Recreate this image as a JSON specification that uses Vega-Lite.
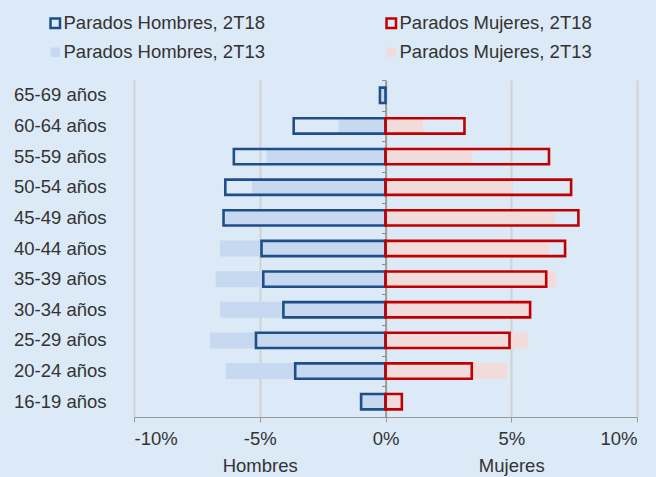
{
  "$schema": "https://vega.github.io/schema/vega-lite/v6.json",
  "width": 503,
  "height": 337,
  "autosize": "none",
  "padding": {"left": 134, "top": 80, "right": 19, "bottom": 60},
  "background": "#dce9f6",
  "config": {
    "view": {"stroke": null},
    "font": "Liberation Sans",
    "legend": {
      "orient": "none",
      "legendX": -88,
      "legendY": -66,
      "columns": 2,
      "columnPadding": 115,
      "rowPadding": 9,
      "padding": 0,
      "labelFontSize": 18.5,
      "labelColor": "#333333",
      "labelOffset": -1,
      "labelLimit": 300,
      "symbolType": "square",
      "symbolSize": 90,
      "symbolStrokeWidth": 2.5,
      "title": null
    }
  },
  "data": {
    "values": [
      {"edad": "65-69 años", "serie": "Parados Hombres, 2T18", "periodo": "2T18", "valor": -0.22},
      {"edad": "60-64 años", "serie": "Parados Hombres, 2T18", "periodo": "2T18", "valor": -3.65},
      {"edad": "55-59 años", "serie": "Parados Hombres, 2T18", "periodo": "2T18", "valor": -6.03},
      {"edad": "50-54 años", "serie": "Parados Hombres, 2T18", "periodo": "2T18", "valor": -6.37},
      {"edad": "45-49 años", "serie": "Parados Hombres, 2T18", "periodo": "2T18", "valor": -6.44},
      {"edad": "40-44 años", "serie": "Parados Hombres, 2T18", "periodo": "2T18", "valor": -4.93},
      {"edad": "35-39 años", "serie": "Parados Hombres, 2T18", "periodo": "2T18", "valor": -4.86},
      {"edad": "30-34 años", "serie": "Parados Hombres, 2T18", "periodo": "2T18", "valor": -4.06},
      {"edad": "25-29 años", "serie": "Parados Hombres, 2T18", "periodo": "2T18", "valor": -5.15},
      {"edad": "20-24 años", "serie": "Parados Hombres, 2T18", "periodo": "2T18", "valor": -3.59},
      {"edad": "16-19 años", "serie": "Parados Hombres, 2T18", "periodo": "2T18", "valor": -0.97},
      {"edad": "65-69 años", "serie": "Parados Hombres, 2T13", "periodo": "2T13", "valor": -0.15},
      {"edad": "60-64 años", "serie": "Parados Hombres, 2T13", "periodo": "2T13", "valor": -1.87},
      {"edad": "55-59 años", "serie": "Parados Hombres, 2T13", "periodo": "2T13", "valor": -4.73},
      {"edad": "50-54 años", "serie": "Parados Hombres, 2T13", "periodo": "2T13", "valor": -5.31},
      {"edad": "45-49 años", "serie": "Parados Hombres, 2T13", "periodo": "2T13", "valor": -6.4},
      {"edad": "40-44 años", "serie": "Parados Hombres, 2T13", "periodo": "2T13", "valor": -6.58},
      {"edad": "35-39 años", "serie": "Parados Hombres, 2T13", "periodo": "2T13", "valor": -6.75},
      {"edad": "30-34 años", "serie": "Parados Hombres, 2T13", "periodo": "2T13", "valor": -6.58},
      {"edad": "25-29 años", "serie": "Parados Hombres, 2T13", "periodo": "2T13", "valor": -6.98},
      {"edad": "20-24 años", "serie": "Parados Hombres, 2T13", "periodo": "2T13", "valor": -6.35},
      {"edad": "16-19 años", "serie": "Parados Hombres, 2T13", "periodo": "2T13", "valor": -0.95},
      {"edad": "60-64 años", "serie": "Parados Mujeres, 2T18", "periodo": "2T18", "valor": 3.14},
      {"edad": "55-59 años", "serie": "Parados Mujeres, 2T18", "periodo": "2T18", "valor": 6.5},
      {"edad": "50-54 años", "serie": "Parados Mujeres, 2T18", "periodo": "2T18", "valor": 7.38},
      {"edad": "45-49 años", "serie": "Parados Mujeres, 2T18", "periodo": "2T18", "valor": 7.67},
      {"edad": "40-44 años", "serie": "Parados Mujeres, 2T18", "periodo": "2T18", "valor": 7.14},
      {"edad": "35-39 años", "serie": "Parados Mujeres, 2T18", "periodo": "2T18", "valor": 6.39},
      {"edad": "30-34 años", "serie": "Parados Mujeres, 2T18", "periodo": "2T18", "valor": 5.75},
      {"edad": "25-29 años", "serie": "Parados Mujeres, 2T18", "periodo": "2T18", "valor": 4.93},
      {"edad": "20-24 años", "serie": "Parados Mujeres, 2T18", "periodo": "2T18", "valor": 3.43},
      {"edad": "16-19 años", "serie": "Parados Mujeres, 2T18", "periodo": "2T18", "valor": 0.65},
      {"edad": "60-64 años", "serie": "Parados Mujeres, 2T13", "periodo": "2T13", "valor": 1.49},
      {"edad": "55-59 años", "serie": "Parados Mujeres, 2T13", "periodo": "2T13", "valor": 3.42},
      {"edad": "50-54 años", "serie": "Parados Mujeres, 2T13", "periodo": "2T13", "valor": 5.05},
      {"edad": "45-49 años", "serie": "Parados Mujeres, 2T13", "periodo": "2T13", "valor": 6.73},
      {"edad": "40-44 años", "serie": "Parados Mujeres, 2T13", "periodo": "2T13", "valor": 6.49},
      {"edad": "35-39 años", "serie": "Parados Mujeres, 2T13", "periodo": "2T13", "valor": 6.77},
      {"edad": "30-34 años", "serie": "Parados Mujeres, 2T13", "periodo": "2T13", "valor": 5.72},
      {"edad": "25-29 años", "serie": "Parados Mujeres, 2T13", "periodo": "2T13", "valor": 5.67},
      {"edad": "20-24 años", "serie": "Parados Mujeres, 2T13", "periodo": "2T13", "valor": 4.81},
      {"edad": "16-19 años", "serie": "Parados Mujeres, 2T13", "periodo": "2T13", "valor": 0.6}
    ]
  },
  "layer": [
    {
      "transform": [{"filter": "datum.periodo == '2T13'"}],
      "mark": {"type": "bar", "size": 16},
      "encoding": {
        "y": {
          "field": "edad", "type": "nominal",
          "sort": ["65-69 años", "60-64 años", "55-59 años", "50-54 años", "45-49 años", "40-44 años", "35-39 años", "30-34 años", "25-29 años", "20-24 años", "16-19 años"],
          "scale": {"paddingInner": 0, "paddingOuter": 0},
          "axis": {"title": null, "domain": false, "ticks": false, "labelFontSize": 18.5, "labelColor": "#333333", "labelPadding": 28}
        },
        "x": {
          "field": "valor", "type": "quantitative",
          "scale": {"domain": [-10, 10], "nice": false},
          "axis": {
            "title": null,
            "values": [-10, -5, 0, 5, 10],
            "grid": true, "gridColor": "#d2d2d2", "gridWidth": 2,
            "domainColor": "#999999", "tickColor": "#999999", "tickSize": 5,
            "labelFontSize": 18.5, "labelColor": "#333333", "labelPadding": 7,
            "labelLineHeight": 27,
            "labelExpr": "datum.value == -5 ? ['-5%', 'Hombres'] : datum.value == 5 ? ['5%', 'Mujeres'] : datum.value + '%'"
          }
        },
        "fill": {
          "field": "serie", "type": "nominal",
          "scale": {"domain": ["Parados Hombres, 2T18", "Parados Hombres, 2T13", "Parados Mujeres, 2T18", "Parados Mujeres, 2T13"], "range": ["transparent", "#c6d9f0", "transparent", "#f2dcdb"]}
        },
        "stroke": {
          "field": "serie", "type": "nominal",
          "scale": {"domain": ["Parados Hombres, 2T18", "Parados Hombres, 2T13", "Parados Mujeres, 2T18", "Parados Mujeres, 2T13"], "range": ["#1f4e8a", "transparent", "#c00000", "transparent"]}
        }
      }
    },
    {
      "transform": [{"filter": "datum.periodo == '2T18'"}],
      "mark": {"type": "bar", "size": 15.3, "strokeWidth": 2.6},
      "encoding": {
        "y": {
          "field": "edad", "type": "nominal",
          "sort": ["65-69 años", "60-64 años", "55-59 años", "50-54 años", "45-49 años", "40-44 años", "35-39 años", "30-34 años", "25-29 años", "20-24 años", "16-19 años"],
          "axis": {"title": null, "orient": "left", "offset": -251.5, "labels": false, "domainColor": "#8c8c8c", "domainWidth": 1.5, "tickColor": "#8c8c8c", "tickSize": 4, "tickBand": "extent"}
        },
        "x": {"field": "valor", "type": "quantitative"},
        "fill": {"field": "serie", "type": "nominal"},
        "stroke": {"field": "serie", "type": "nominal"}
      }
    }
  ],
  "resolve": {"axis": {"y": "independent"}}
}
